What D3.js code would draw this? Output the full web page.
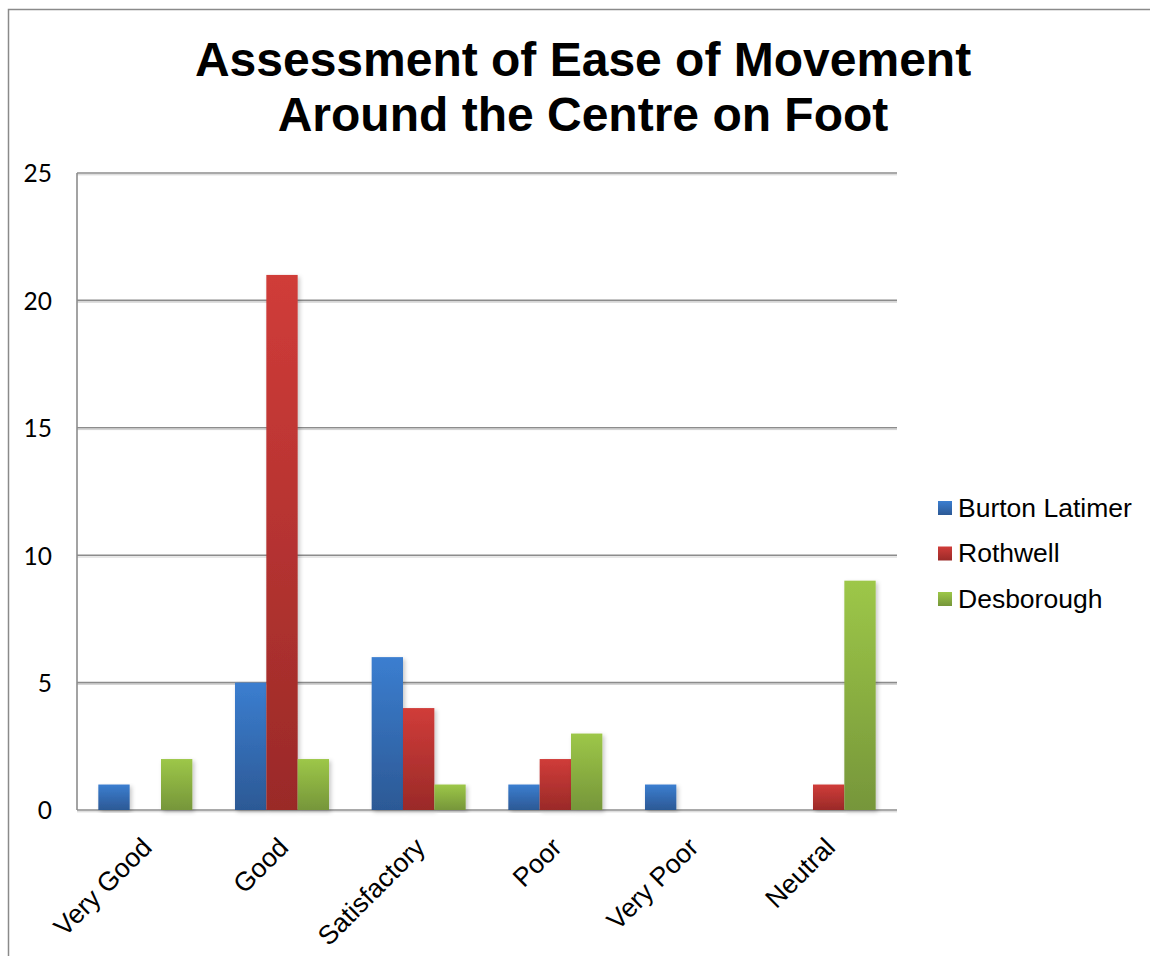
<!DOCTYPE html>
<html>
<head>
<meta charset="utf-8">
<script src="https://cdn.jsdelivr.net/npm/d3@7"></script>
<style>
  html, body { margin: 0; padding: 0; background: #fff; }
  svg { display: block; }
</style>
</head>
<body>
<svg id="chart" width="1150" height="956"></svg>
<script>
const titleLines = ["Assessment of Ease of Movement", "Around the Centre on Foot"];
const categories = ["Very Good", "Good", "Satisfactory", "Poor", "Very Poor", "Neutral"];
const seriesNames = ["Burton Latimer", "Rothwell", "Desborough"];
const burtonLatimer = [1, 5, 6, 1, 1, 0];
const rothwell = [0, 21, 4, 2, 0, 1];
const desborough = [2, 2, 1, 3, 0, 9];
const yTicks = [0, 5, 10, 15, 20, 25];

const seriesValues = [burtonLatimer, rothwell, desborough];
const colorsTop = ["#3b7ed0", "#d03c39", "#9dc748"];
const colorsBottom = ["#2c5995", "#9a2a28", "#76963a"];

const svg = d3.select("#chart");
const defs = svg.append("defs");

seriesNames.forEach((s, i) => {
  const g = defs.append("linearGradient").attr("id", "grad" + i)
    .attr("x1", 0).attr("y1", 0).attr("x2", 0).attr("y2", 1);
  g.append("stop").attr("offset", "0%").attr("stop-color", colorsTop[i]);
  g.append("stop").attr("offset", "100%").attr("stop-color", colorsBottom[i]);
});
const f = defs.append("filter").attr("id", "shadow")
  .attr("x", "-20%").attr("y", "-5%").attr("width", "150%").attr("height", "115%");
f.append("feDropShadow").attr("dx", 2).attr("dy", 2).attr("stdDeviation", 2)
  .attr("flood-color", "#000").attr("flood-opacity", 0.22);

// outer border
svg.append("rect").attr("x", 8.5).attr("y", 9.5).attr("width", 1160).attr("height", 960)
  .attr("fill", "none").attr("stroke", "#8a8a8a").attr("stroke-width", 1.5);

// title
const title = svg.append("text").attr("text-anchor", "middle")
  .attr("font-family", "Liberation Sans, Arial, sans-serif")
  .attr("font-weight", "bold").attr("font-size", 48).attr("fill", "#000");
titleLines.forEach((t, i) => {
  title.append("tspan").attr("x", 583).attr("y", 76 + i * 55).text(t);
});

const plotLeft = 77, plotRight = 897, plotTop = 173, plotBottom = 810;
const y = d3.scaleLinear().domain([0, 25]).range([plotBottom, plotTop]);
const x0 = d3.scaleBand().domain(categories).range([plotLeft, plotRight])
  .paddingInner(0.312).paddingOuter(0.156);
const x1 = d3.scaleBand().domain(seriesNames).range([0, x0.bandwidth()]);

// gridlines
const grid = svg.append("g");
grid.selectAll("line.shade").data(yTicks).join("line").attr("class", "shade")
  .attr("x1", plotLeft).attr("x2", plotRight)
  .attr("y1", d => y(d) + 1.8).attr("y2", d => y(d) + 1.8)
  .attr("stroke", "#d0d0d0").attr("stroke-width", 1);
grid.selectAll("line.main").data(yTicks).join("line").attr("class", "main")
  .attr("x1", plotLeft).attr("x2", plotRight)
  .attr("y1", d => y(d)).attr("y2", d => y(d))
  .attr("stroke", "#8c8c8c").attr("stroke-width", 1.6);

// y axis line
svg.append("line").attr("x1", plotLeft).attr("x2", plotLeft).attr("y1", plotTop).attr("y2", plotBottom)
  .attr("stroke", "#8c8c8c").attr("stroke-width", 1.6);

// y axis tick labels via d3 axis
const yAxis = d3.axisLeft(y).tickValues(yTicks).tickSize(0).tickPadding(0);
const yg = svg.append("g").attr("transform", `translate(${52},0)`).call(yAxis);
yg.select(".domain").remove();
yg.selectAll("text").attr("font-family", "Lato, Open Sans, sans-serif")
  .attr("font-size", 24.5).attr("fill", "#000").attr("dy", "0.36em");

// bars
const groups = svg.append("g").selectAll("g").data(categories).join("g")
  .attr("transform", d => `translate(${x0(d)},0)`);
groups.selectAll("rect").data((c, ci) => seriesNames.map((s, si) => ({ s, si, v: seriesValues[si][ci] })))
  .join("rect")
  .filter(d => d.v > 0)
  .attr("x", d => x1(d.s))
  .attr("width", x1.bandwidth())
  .attr("y", d => y(d.v))
  .attr("height", d => y(0) - y(d.v))
  .attr("fill", d => `url(#grad${d.si})`)
  .attr("filter", "url(#shadow)");

// category labels
const xAxis = d3.axisBottom(x0).tickSize(0).tickPadding(0);
const xg = svg.append("g").attr("transform", `translate(0,${plotBottom})`).call(xAxis);
xg.select(".domain").remove();
xg.selectAll(".tick text")
  .attr("font-family", "Liberation Sans, Arial, sans-serif")
  .attr("font-size", 26.5).attr("fill", "#000")
  .attr("text-anchor", "end")
  .attr("dy", 0).attr("y", 0)
  .attr("transform", "translate(8,39) rotate(-45)");

// legend
const legend = svg.append("g");
seriesNames.forEach((s, i) => {
  const ly = 508 + i * 45.5;
  legend.append("rect").attr("x", 938).attr("y", ly - 7).attr("width", 14).attr("height", 14)
    .attr("fill", `url(#grad${i})`);
  legend.append("text").attr("x", 958).attr("y", ly + 8.5)
    .attr("font-family", "Liberation Sans, Arial, sans-serif")
    .attr("font-size", 26.5).attr("fill", "#000").text(s);
});
</script>
</body>
</html>
